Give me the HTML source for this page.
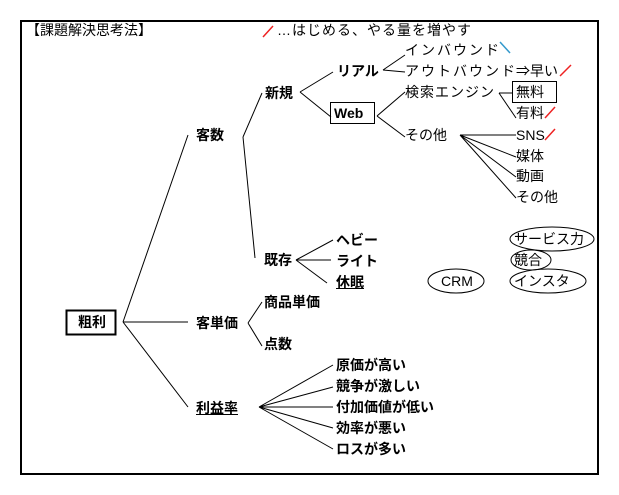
<!DOCTYPE html>
<html><head><meta charset="utf-8"><style>
body{margin:0;background:#fff;width:619px;height:495px;overflow:hidden;position:relative;font-family:"Liberation Sans","Noto Sans CJK JP",sans-serif;font-size:14px;color:#000}
.t{position:absolute;white-space:nowrap;line-height:16px}
.b{font-weight:bold}
.u{text-decoration:underline}
.s{letter-spacing:2px}
svg{position:absolute;left:0;top:0}
</style></head><body>
<svg width="619" height="495">
<rect x="21" y="21" width="577" height="453" fill="none" stroke="#000" stroke-width="2"/>
<rect x="66.5" y="310.5" width="49" height="24" fill="none" stroke="#000" stroke-width="2"/>
<rect x="330.5" y="102.5" width="44" height="21" fill="none" stroke="#000"/>
<rect x="512.5" y="81.5" width="44" height="21" fill="none" stroke="#000"/>
<ellipse cx="552" cy="239" rx="42" ry="12" fill="none" stroke="#000"/>
<ellipse cx="531" cy="260" rx="20" ry="10" fill="none" stroke="#000"/>
<ellipse cx="548" cy="281" rx="38" ry="12" fill="none" stroke="#000"/>
<ellipse cx="456" cy="281" rx="28" ry="12" fill="none" stroke="#000"/>
<g stroke="#000" stroke-width="1" fill="none">
<path d="M123 322L188 135M123 322L188 322M123 322L188 407"/>
<path d="M243 137L262 93M243 137L255 258"/>
<path d="M300 92L333 72M300 92L331 117"/>
<path d="M383 70L405 55M383 70L405 72"/>
<path d="M377 116L405 92M377 116L405 137"/>
<path d="M499 93L513 93M499 93L516 118"/>
<path d="M460 135L516 135M460 135L516 157M460 135L516 177M460 135L516 198"/>
<path d="M296 260L333 240M296 260L331 260M296 260L327 283"/>
<path d="M248 323L262 302M248 323L262 346"/>
<path d="M259 407L333 365M259 407L333 387M259 407L333 407M259 407L333 428M259 407L333 449"/>
</g>
<g stroke-width="1.5" fill="none">
<path d="M263 37L273 26" stroke="#e22"/>
<path d="M500 42L510 53" stroke="#39c"/>
<path d="M560 76L571 65" stroke="#e22"/>
<path d="M545 118L555 107" stroke="#e22"/>
<path d="M545 140L555 129" stroke="#e22"/>
</g>
</svg>
<div class="t" style="left:26px;top:22px">【課題解決思考法】</div>
<div class="t" style="left:277px;top:22px;letter-spacing:1px">…はじめる、やる量を増やす</div>
<div class="t s" style="left:405px;top:42px">インバウンド</div>
<div class="t s" style="left:405px;top:63px">アウトバウンド</div>
<div class="t" style="left:516px;top:63px">⇒早い</div>
<div class="t b" style="left:337px;top:63px">リアル</div>
<div class="t b" style="left:265px;top:85px">新規</div>
<div class="t b" style="left:334px;top:105px">Web</div>
<div class="t" style="left:405px;top:84px;letter-spacing:1px">検索エンジン</div>
<div class="t" style="left:516px;top:84px">無料</div>
<div class="t" style="left:516px;top:105px">有料</div>
<div class="t" style="left:405px;top:127px">その他</div>
<div class="t" style="left:516px;top:127px">SNS</div>
<div class="t" style="left:516px;top:148px">媒体</div>
<div class="t" style="left:516px;top:168px">動画</div>
<div class="t" style="left:516px;top:189px">その他</div>
<div class="t b" style="left:196px;top:127px">客数</div>
<div class="t b" style="left:264px;top:252px">既存</div>
<div class="t b" style="left:336px;top:232px">ヘビー</div>
<div class="t b" style="left:336px;top:253px">ライト</div>
<div class="t b u" style="left:336px;top:274px">休眠</div>
<div class="t" style="left:514px;top:231px">サービス力</div>
<div class="t" style="left:514px;top:252px">競合</div>
<div class="t" style="left:514px;top:273px">インスタ</div>
<div class="t" style="left:441px;top:273px">CRM</div>
<div class="t b" style="left:78px;top:314px">粗利</div>
<div class="t b" style="left:196px;top:315px">客単価</div>
<div class="t b" style="left:264px;top:294px">商品単価</div>
<div class="t b" style="left:264px;top:336px">点数</div>
<div class="t b u" style="left:196px;top:400px">利益率</div>
<div class="t b" style="left:336px;top:357px">原価が高い</div>
<div class="t b" style="left:336px;top:378px">競争が激しい</div>
<div class="t b" style="left:336px;top:399px">付加価値が低い</div>
<div class="t b" style="left:336px;top:420px">効率が悪い</div>
<div class="t b" style="left:336px;top:441px">ロスが多い</div>
</body></html>
